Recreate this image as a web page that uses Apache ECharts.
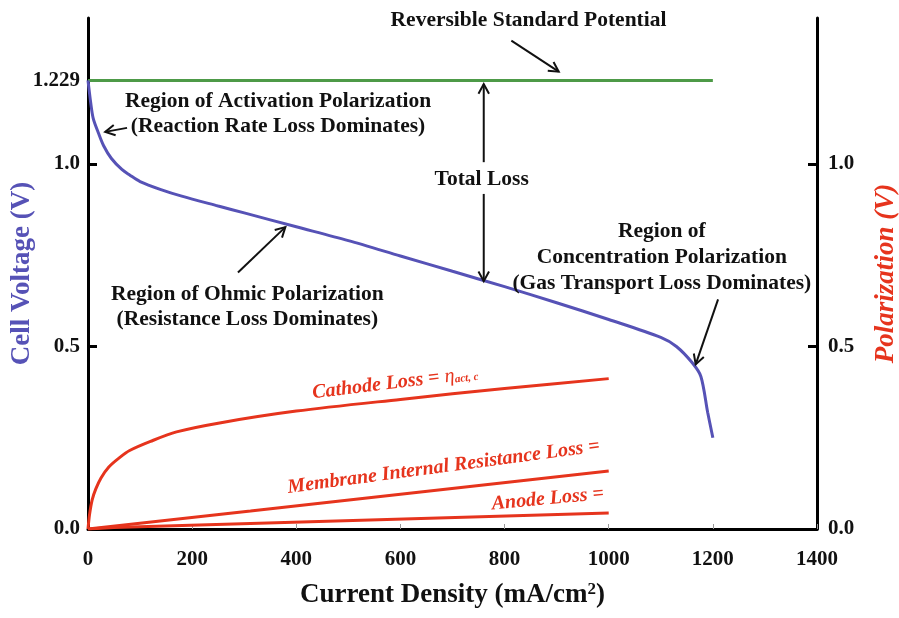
<!DOCTYPE html>
<html><head><meta charset="utf-8">
<script src="https://cdn.jsdelivr.net/npm/echarts@6/dist/echarts.min.js"></script>
<style>html,body{margin:0;padding:0;background:#fff}#c{width:899px;height:618px}</style>
</head><body><div id="c"></div>
<script>
// ---------- data ----------
const xTickValues = [0, 200, 400, 600, 800, 1000, 1200, 1400];
const leftTickValues = [0, 0.5, 1.0, 1.229];
const rightTickValues = [0, 0.5, 1.0];

const cellX = [0, 5, 10, 20, 30, 45, 65, 80, 100, 140, 180, 250, 300, 400, 500, 600, 700, 800, 900, 1000, 1100, 1130, 1160, 1177, 1190, 1200];
const cellV = [1.229, 1.17, 1.125, 1.085, 1.05, 1.015, 0.985, 0.97, 0.952, 0.93, 0.912, 0.885, 0.866, 0.828, 0.79, 0.748, 0.706, 0.664, 0.62, 0.574, 0.525, 0.50, 0.456, 0.418, 0.32, 0.25];

const reversibleX = [0, 1200];
const reversibleV = [1.229, 1.229];

const cathodeX = [0, 3, 8, 15, 25, 40, 60, 80, 120, 170, 250, 400, 600, 800, 1000];
const cathodeV = [0, 0.04, 0.08, 0.11, 0.14, 0.17, 0.195, 0.215, 0.24, 0.266, 0.29, 0.323, 0.355, 0.385, 0.412];

const membraneX = [0, 312, 1000];
const membraneV = [0, 0.049, 0.159];

const anodeX = [0, 50, 312, 1000];
const anodeV = [0, 0.004, 0.015, 0.044];

// ---------- annotations (data coordinates) ----------
const texts = [
  { t: 'Reversible Standard Potential', at: [846, 1.393] },
  { t: 'Region of Activation Polarization', at: [365, 1.170] },
  { t: '(Reaction Rate Loss Dominates)', at: [365, 1.102] },
  { t: 'Total Loss', at: [756, 0.959] },
  { t: 'Region of Ohmic Polarization', at: [306, 0.643] },
  { t: '(Resistance Loss Dominates)', at: [306, 0.574] },
  { t: 'Region of', at: [1102, 0.815] },
  { t: 'Concentration Polarization', at: [1102, 0.745] },
  { t: '(Gas Transport Loss Dominates)', at: [1102, 0.672] }
];
const arrows = [
  { from: [813, 1.338], to: [904, 1.253] },
  { from: [75, 1.099], to: [33, 1.088] },
  { from: [760, 1.005], to: [760, 1.219] },
  { from: [760, 0.918], to: [760, 0.679] },
  { from: [288, 0.703], to: [379, 0.827] },
  { from: [1210, 0.629], to: [1167, 0.451] }
];
const redLabels = [
  { t: 'Cathode Loss = {g|η}{sub|act, c}', at: [590, 0.400], rot: 7 },
  { t: 'Membrane Internal Resistance Loss =', at: [683, 0.170], rot: 7.6 },
  { t: 'Anode Loss =', at: [883, 0.082], rot: 5.5 }
];

// ---------- styles ----------
const FONT = "'Liberation Serif', 'Times New Roman', serif";
const BLUE = '#5652b6';
const RED = '#e6341d';
const GREEN = '#4d9a47';

const zip = (xs, ys) => xs.map((x, i) => [x, ys[i]]);

const chart = echarts.init(document.getElementById('c'), null, { renderer: 'canvas' });

const yAxisCommon = {
  type: 'value', min: 0, max: 1.4,
  splitLine: { show: false },
  axisLine: { show: true, lineStyle: { color: '#000', width: 3 } },
  axisTick: { show: true, inside: true, length: 9, lineStyle: { color: '#000', width: 3 } },
  nameLocation: 'middle', nameRotate: 90, nameMoveOverlap: false
};

chart.setOption({
  animation: false,
  backgroundColor: '#fff',
  grid: { left: 88, right: 82, top: 18, bottom: 89, containLabel: false, outerBoundsMode: 'none' },
  xAxis: {
    type: 'value', min: 0, max: 1400, interval: 200,
    splitLine: { show: false },
    axisLine: { show: true, lineStyle: { color: '#000', width: 3 } },
    axisTick: { show: true, inside: true, length: 5, lineStyle: { color: '#999', width: 1 }, customValues: xTickValues },
    axisLabel: { customValues: xTickValues, color: '#111', fontFamily: FONT, fontWeight: 'bold', fontSize: 21, margin: 20, formatter: v => String(v) },
    name: 'Current Density (mA/cm{sup|2})',
    nameLocation: 'middle', nameGap: 52, nameMoveOverlap: false,
    nameTextStyle: {
      color: '#111', fontFamily: FONT, fontWeight: 'bold', fontSize: 27,
      rich: { sup: { fontFamily: FONT, fontWeight: 'bold', fontSize: 17, verticalAlign: 'top', padding: [0, 0, 12, 0], color: '#111' } }
    }
  },
  yAxis: [
    Object.assign({}, yAxisCommon, {
      position: 'left',
      axisTick: Object.assign({}, yAxisCommon.axisTick, { customValues: [0, 0.5, 1.0] }),
      axisLabel: {
        customValues: leftTickValues, margin: 8,
        color: '#111', fontFamily: FONT, fontWeight: 'bold', fontSize: 21,
        formatter: v => (Math.abs(v - 1.229) < 1e-6 ? '1.229' : v.toFixed(1))
      },
      name: 'Cell Voltage (V)', nameGap: 52,
      nameTextStyle: { color: BLUE, fontFamily: FONT, fontWeight: 'bold', fontSize: 27 }
    }),
    Object.assign({}, yAxisCommon, {
      position: 'right',
      axisTick: Object.assign({}, yAxisCommon.axisTick, { customValues: rightTickValues }),
      axisLabel: {
        customValues: rightTickValues, margin: 11,
        color: '#111', fontFamily: FONT, fontWeight: 'bold', fontSize: 21,
        formatter: v => v.toFixed(1)
      },
      name: 'Polarization (V)', nameGap: 56,
      nameTextStyle: { color: RED, fontFamily: FONT, fontWeight: 'bold', fontStyle: 'italic', fontSize: 27 }
    })
  ],
  series: [
    { name: 'Reversible', type: 'line', data: zip(reversibleX, reversibleV), showSymbol: false, lineStyle: { color: GREEN, width: 3 }, z: 3 },
    { name: 'Cell Voltage', type: 'line', data: zip(cellX, cellV), showSymbol: false, smooth: 0.3, lineStyle: { color: BLUE, width: 3 }, z: 3 },
    { name: 'Cathode', type: 'line', yAxisIndex: 1, data: zip(cathodeX, cathodeV), showSymbol: false, smooth: 0.3, lineStyle: { color: RED, width: 3 }, z: 2 },
    { name: 'Membrane', type: 'line', yAxisIndex: 1, data: zip(membraneX, membraneV), showSymbol: false, lineStyle: { color: RED, width: 3 }, z: 2 },
    { name: 'Anode', type: 'line', yAxisIndex: 1, data: zip(anodeX, anodeV), showSymbol: false, lineStyle: { color: RED, width: 3 }, z: 2 }
  ]
});

// ---------- annotations via library scales ----------
const toPx = p => chart.convertToPixel({ xAxisIndex: 0, yAxisIndex: 0 }, p);
const graphics = [];
texts.forEach(a => {
  const p = toPx(a.at);
  graphics.push({
    type: 'text', x: p[0], y: p[1], z: 10,
    style: { text: a.t, fill: '#111', font: 'bold 21.5px ' + FONT, textAlign: 'center', textVerticalAlign: 'middle' }
  });
});
arrows.forEach(a => {
  const p1 = toPx(a.from), p2 = toPx(a.to);
  const ang = Math.atan2(p2[1] - p1[1], p2[0] - p1[0]);
  const L = 11, spread = 0.5;
  const h1 = [p2[0] - L * Math.cos(ang - spread), p2[1] - L * Math.sin(ang - spread)];
  const h2 = [p2[0] - L * Math.cos(ang + spread), p2[1] - L * Math.sin(ang + spread)];
  graphics.push({ type: 'line', z: 10, shape: { x1: p1[0], y1: p1[1], x2: p2[0], y2: p2[1] }, style: { stroke: '#111', lineWidth: 2 } });
  graphics.push({ type: 'polyline', z: 10, shape: { points: [h1, p2, h2] }, style: { stroke: '#111', lineWidth: 2, fill: null } });
});
redLabels.forEach(a => {
  const p = toPx(a.at);
  graphics.push({
    type: 'text', x: p[0], y: p[1], rotation: a.rot * Math.PI / 180, z: 10,
    style: {
      text: a.t, fill: RED, font: 'italic bold 20px ' + FONT, textAlign: 'center', textVerticalAlign: 'middle',
      rich: {
        g: { fill: RED, font: 'italic 20px ' + FONT },
        sub: { fill: RED, font: 'italic bold 11px ' + FONT, padding: [8, 0, 0, 0] }
      }
    }
  });
});
chart.setOption({ graphic: graphics });
</script>
</body></html>
